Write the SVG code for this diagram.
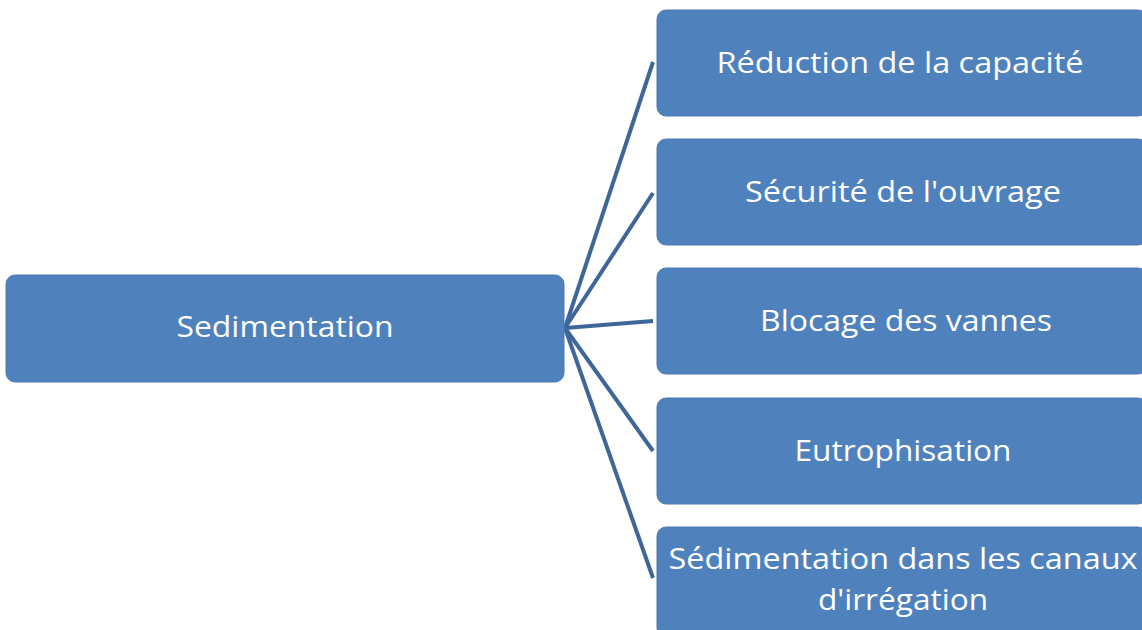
<svg xmlns="http://www.w3.org/2000/svg" width="1142" height="630" viewBox="0 0 1142 630">
<style>
.box{fill:#4f81bd;stroke:#4a7ab3;stroke-width:1}
.lbl{font-family:"Open Sans","Noto Sans","Liberation Sans",sans-serif;font-size:30px;fill:#ffffff;text-anchor:middle}
.con{stroke:#3f6698;stroke-width:4;fill:none}
</style>
<rect width="1142" height="630" fill="#ffffff"/>
<g id="connectors">
<line class="con" x1="565" y1="328" x2="653" y2="62"/>
<line class="con" x1="565" y1="328" x2="653" y2="193"/>
<line class="con" x1="565" y1="328" x2="653" y2="321"/>
<line class="con" x1="565" y1="328" x2="653" y2="451"/>
<line class="con" x1="565" y1="328" x2="653" y2="578"/>
</g>
<g id="sedimentation">
<rect class="box" x="6" y="275" width="558" height="107" rx="9"/>
<text class="lbl" x="285" y="337" textLength="217" lengthAdjust="spacingAndGlyphs">Sedimentation</text>
</g>
<g id="reduction">
<rect class="box" x="657" y="10" width="490" height="106" rx="9"/>
<text class="lbl" x="900" y="73" textLength="367" lengthAdjust="spacingAndGlyphs">Réduction de la capacité</text>
</g>
<g id="securite">
<rect class="box" x="657" y="139" width="490" height="106" rx="9"/>
<text class="lbl" x="903" y="202" textLength="316" lengthAdjust="spacingAndGlyphs">Sécurité de l'ouvrage</text>
</g>
<g id="blocage">
<rect class="box" x="657" y="268" width="490" height="106" rx="9"/>
<text class="lbl" x="906" y="331" textLength="292" lengthAdjust="spacingAndGlyphs">Blocage des vannes</text>
</g>
<g id="eutrophisation">
<rect class="box" x="657" y="398" width="490" height="106" rx="9"/>
<text class="lbl" x="903" y="461" textLength="217" lengthAdjust="spacingAndGlyphs">Eutrophisation</text>
</g>
<g id="canaux">
<rect class="box" x="657" y="527" width="490" height="110" rx="9"/>
<text class="lbl" x="903" y="569" textLength="469" lengthAdjust="spacingAndGlyphs">Sédimentation dans les canaux</text>
<text class="lbl" x="903" y="610" textLength="170" lengthAdjust="spacingAndGlyphs">d'irrégation</text>
</g>
</svg>
